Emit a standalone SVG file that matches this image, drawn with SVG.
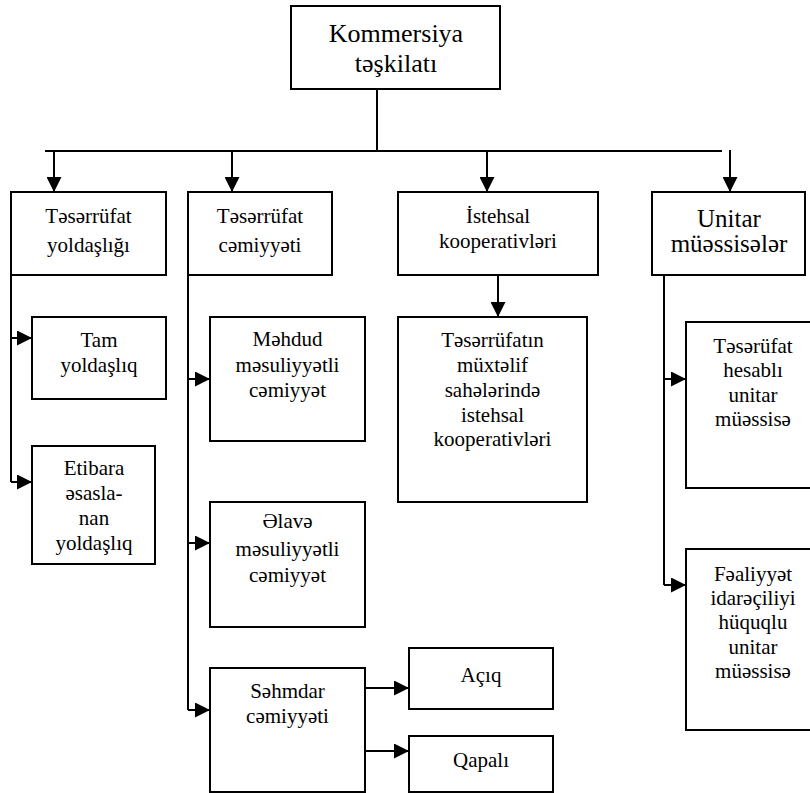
<svg xmlns="http://www.w3.org/2000/svg" width="810" height="793" viewBox="0 0 810 793">
  <defs>
    <marker id="arrow" markerUnits="userSpaceOnUse" markerWidth="15" markerHeight="15" refX="15" refY="7.5" orient="auto">
      <path d="M0,0 L15,7.5 L0,15 Z" fill="#000"/>
    </marker>
    <style>
      rect { fill: #fff; stroke: #000; stroke-width: 2; }
      .ln { fill: none; stroke: #000; stroke-width: 2; }
      .ar { fill: none; stroke: #000; stroke-width: 2; marker-end: url(#arrow); }
      text { font-size: 21px; fill: #000; text-anchor: middle; }
      .big { font-size: 25px; }
      .top { font-size: 26px; }
    </style>
  </defs>
  <rect x="0" y="0" width="810" height="793" style="fill:#fff;stroke:none"/>

  <g id="connectors">
    <!-- trunk and top rail -->
    <path class="ln" d="M377,89 V151"/>
    <path class="ln" d="M45,151 H722"/>
    <path class="ar" d="M54,151 V192"/>
    <path class="ar" d="M232,151 V192"/>
    <path class="ar" d="M487,151 V192"/>
    <path class="ar" d="M730,150 V192"/>
    <!-- column 1 -->
    <path class="ln" d="M11,275 V482"/>
    <path class="ar" d="M11,338 H32"/>
    <path class="ar" d="M11,482 H32"/>
    <!-- column 2 -->
    <path class="ln" d="M188,275 V710"/>
    <path class="ar" d="M188,379 H210"/>
    <path class="ar" d="M188,543 H210"/>
    <path class="ar" d="M188,710 H210"/>
    <path class="ar" d="M365,688 H409"/>
    <path class="ar" d="M365,751 H409"/>
    <!-- column 3 -->
    <path class="ar" d="M498,275 V317"/>
    <!-- column 4 -->
    <path class="ln" d="M664,275 V585"/>
    <path class="ar" d="M664,379 H686"/>
    <path class="ar" d="M664,585 H686"/>
  </g>

  <g font-family="'Liberation Serif', 'DejaVu Serif', serif">
  <g id="kommersiya">
    <rect x="291" y="6" width="209" height="83"/>
    <text class="top" x="396" y="42">Kommersiya</text>
    <text class="top" x="396" y="72">təşkilatı</text>
  </g>

  <g id="yoldasligi">
    <rect x="11" y="192" width="155" height="83"/>
    <text x="88.5" y="223">Təsərrüfat</text>
    <text x="88.5" y="252">yoldaşlığı</text>
  </g>
  <g id="cemiyyeti">
    <rect x="188" y="192" width="144" height="83"/>
    <text x="260" y="223">Təsərrüfat</text>
    <text x="260" y="252">cəmiyyəti</text>
  </g>
  <g id="istehsal">
    <rect x="398" y="192" width="200" height="83"/>
    <text x="498" y="223">İstehsal</text>
    <text x="498" y="248">kooperativləri</text>
  </g>
  <g id="unitar">
    <rect x="652" y="192" width="153" height="83"/>
    <text class="big" x="729" y="227">Unitar</text>
    <text class="big" x="729" y="252">müəssisələr</text>
  </g>

  <g id="tam">
    <rect x="32" y="317" width="134" height="82"/>
    <text x="99" y="347">Tam</text>
    <text x="99" y="372">yoldaşlıq</text>
  </g>
  <g id="etibara">
    <rect x="32" y="446" width="123" height="118"/>
    <text x="94" y="475">Etibara</text>
    <text x="94" y="500">əsasla-</text>
    <text x="94" y="525">nan</text>
    <text x="94" y="550">yoldaşlıq</text>
  </g>

  <g id="mehdud">
    <rect x="210" y="317" width="155" height="124"/>
    <text x="287.5" y="346">Məhdud</text>
    <text x="287.5" y="372">məsuliyyətli</text>
    <text x="287.5" y="397">cəmiyyət</text>
  </g>
  <g id="elave">
    <rect x="210" y="502" width="155" height="125"/>
    <text x="287.5" y="528">Əlavə</text>
    <text x="287.5" y="556">məsuliyyətli</text>
    <text x="287.5" y="582">cəmiyyət</text>
  </g>
  <g id="sehmdar">
    <rect x="210" y="668" width="155" height="124"/>
    <text x="287.5" y="698">Səhmdar</text>
    <text x="287.5" y="723">cəmiyyəti</text>
  </g>
  <g id="aciq">
    <rect x="409" y="648" width="144" height="61"/>
    <text x="481" y="682">Açıq</text>
  </g>
  <g id="qapali">
    <rect x="409" y="736" width="144" height="56"/>
    <text x="481" y="767">Qapalı</text>
  </g>

  <g id="sahelerinde">
    <rect x="398" y="317" width="189" height="185"/>
    <text x="492.5" y="347">Təsərrüfatın</text>
    <text x="492.5" y="372">müxtəlif</text>
    <text x="492.5" y="397">sahələrində</text>
    <text x="492.5" y="422">istehsal</text>
    <text x="492.5" y="446">kooperativləri</text>
  </g>

  <g id="hesabli">
    <rect x="686" y="322" width="140" height="166"/>
    <text x="753" y="353">Təsərüfat</text>
    <text x="753" y="377">hesablı</text>
    <text x="753" y="402">unitar</text>
    <text x="753" y="426">müəssisə</text>
  </g>
  <g id="idareciliyi">
    <rect x="686" y="549" width="140" height="181"/>
    <text x="753" y="581">Fəaliyyət</text>
    <text x="753" y="605">idarəçiliyi</text>
    <text x="753" y="629">hüquqlu</text>
    <text x="753" y="654">unitar</text>
    <text x="753" y="678">müəssisə</text>
  </g>
  </g>
</svg>
